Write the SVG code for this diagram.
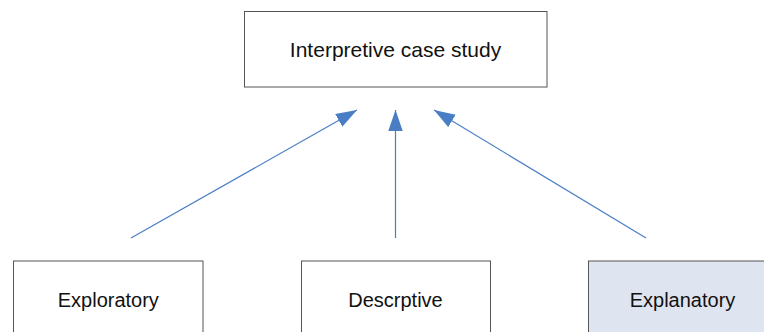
<svg xmlns="http://www.w3.org/2000/svg" width="764" height="332" viewBox="0 0 764 332">
  <style>
    .box { fill: #ffffff; stroke: #555555; stroke-width: 1; }
    .box.alt { fill: #dfe5f0; }
    .label { font-family: "Liberation Sans", Arial, sans-serif; font-size: 20px; fill: #111111; text-anchor: middle; }
    .label.big { font-size: 21px; }
    .link { stroke: #4a7ec4; stroke-width: 1.2; fill: none; marker-end: url(#head); }
  </style>
  <defs>
    <marker id="head" markerUnits="userSpaceOnUse" markerWidth="22" markerHeight="16" refX="21" refY="7.25" orient="auto">
      <path d="M0,0 L21,7.25 L0,14.5 Z" fill="#4a7ec4"/>
    </marker>
  </defs>
  <rect width="764" height="332" fill="#ffffff"/>

  <g id="connectors">
    <line class="link" x1="131" y1="238" x2="357" y2="110"/>
    <line class="link" x1="395.5" y1="238" x2="395.5" y2="110"/>
    <line class="link" x1="646" y1="238" x2="434" y2="110"/>
  </g>

  <g id="interpretive">
    <rect class="box" x="244.5" y="11.5" width="302.5" height="75.5"/>
    <text class="label big" x="395.5" y="56.5">Interpretive case study</text>
  </g>

  <g id="exploratory">
    <rect class="box" x="13.5" y="261" width="189.5" height="76"/>
    <text class="label" x="108.3" y="306.5">Exploratory</text>
  </g>

  <g id="descriptive">
    <rect class="box" x="301.5" y="261" width="189" height="76"/>
    <text class="label" x="395.5" y="306.5">Descrptive</text>
  </g>

  <g id="explanatory">
    <rect class="box alt" x="588.5" y="261" width="189.5" height="76"/>
    <text class="label" x="682.5" y="306.5">Explanatory</text>
  </g>
</svg>
